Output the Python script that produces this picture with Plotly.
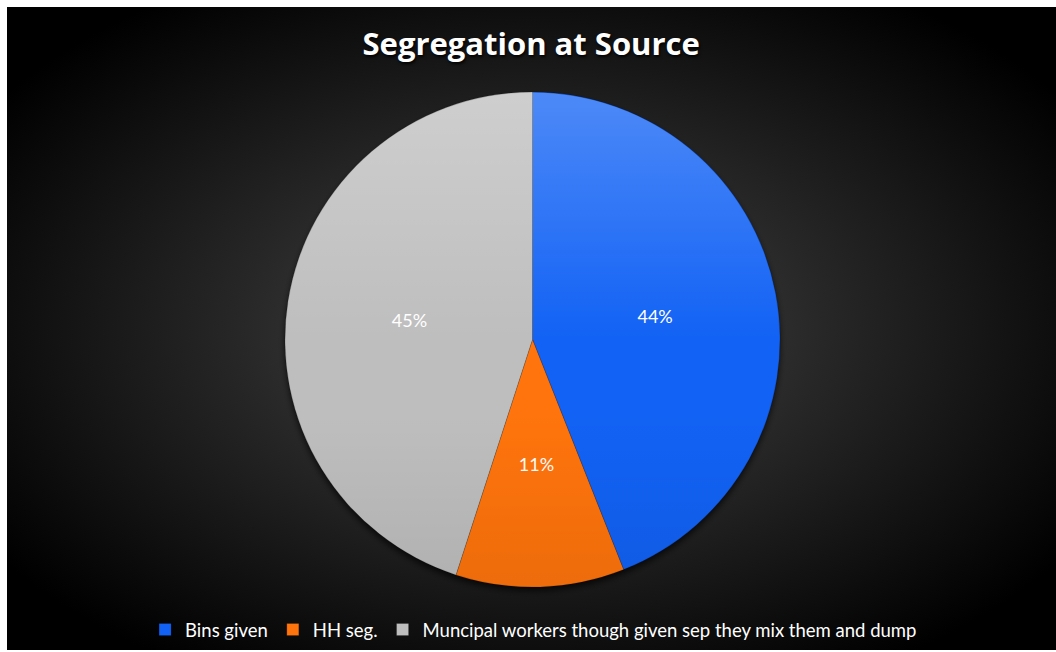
import base64
import plotly.graph_objects as go

categories = ["Bins given", "HH seg.", "Muncipal workers though given sep they mix them and dump"]
values = [44, 11, 45]
colors = ["#1262f5", "#ff740c", "#bebebe"]
title_text = "Segregation at Source"

W, H = 1056, 652
ml, mt, mr, mb = 7, 7, 0, 2
pw, ph = W - ml - mr, H - mt - mb

# pie geometry in pixels
cx, cy, r = 532.5, 339.5, 247.5

bg_svg = f'''<svg xmlns="http://www.w3.org/2000/svg" width="{pw}" height="{ph}" viewBox="0 0 {pw} {ph}" preserveAspectRatio="none">
<defs><radialGradient id="g" cx="0.5" cy="0.5" r="0.62" gradientUnits="objectBoundingBox">
<stop offset="0" stop-color="#4a4a4a"/><stop offset="0.45" stop-color="#272727"/><stop offset="1" stop-color="#000000"/>
</radialGradient>
<filter id="b" x="-20%" y="-20%" width="140%" height="140%"><feGaussianBlur stdDeviation="3"/></filter></defs>
<rect width="{pw}" height="{ph}" fill="url(#g)"/>
<circle cx="{cx - ml}" cy="{cy - mt + 4}" r="{r}" fill="#000" fill-opacity="0.7" filter="url(#b)"/></svg>'''
bg_uri = "data:image/svg+xml;base64," + base64.b64encode(bg_svg.encode()).decode()

ov_svg = '''<svg xmlns="http://www.w3.org/2000/svg" width="500" height="500" viewBox="0 0 500 500">
<defs><linearGradient id="l" x1="0" y1="0" x2="0" y2="1">
<stop offset="0" stop-color="#ffffff" stop-opacity="0.25"/><stop offset="0.5" stop-color="#ffffff" stop-opacity="0"/>
<stop offset="0.65" stop-color="#000000" stop-opacity="0"/><stop offset="1" stop-color="#000000" stop-opacity="0.07"/>
</linearGradient></defs><circle cx="250" cy="250" r="249.5" fill="url(#l)"/></svg>'''
ov_uri = "data:image/svg+xml;base64," + base64.b64encode(ov_svg.encode()).decode()

def dom(rad):
    return dict(x=[(cx - rad - ml) / pw, (cx + rad - ml) / pw],
                y=[1 - (cy + rad - mt) / ph, 1 - (cy - rad - mt) / ph])
main_dom = dom(r)
label_dom = dom(167)

lblfont = dict(color="white", size=18, family="Lato")

fig = go.Figure()
fig.add_trace(go.Pie(
    labels=categories, values=values, sort=False, direction="clockwise", rotation=0,
    marker=dict(colors=colors, line=dict(color="rgba(0,0,0,0.25)", width=0.6)),
    texttemplate=["%{percent:.0%}", "", "%{percent:.0%}"], textposition="inside",
    insidetextorientation="horizontal", textfont=lblfont,
    domain=main_dom, hoverinfo="label+percent",
))
fig.add_trace(go.Pie(
    labels=categories, values=values, sort=False, direction="clockwise", rotation=0,
    marker=dict(colors=["rgba(0,0,0,0)"] * 3, line=dict(width=0)),
    texttemplate=["", "%{percent:.0%}", ""], textposition="inside",
    insidetextorientation="horizontal", textfont=lblfont,
    domain=label_dom, hoverinfo="skip", showlegend=False,
))

fig.update_layout(
    width=W, height=H,
    margin=dict(l=ml, r=mr, t=mt, b=mb),
    paper_bgcolor="white",
    title=dict(text="<b>" + title_text + "</b>", x=0.503, xanchor="center", y=1 - 44 / H, yanchor="middle",
               font=dict(family="Open Sans", size=31, color="white", shadow="1px 2px 3px rgba(0,0,0,0.9)")),
    legend=dict(orientation="h", x=0.502, xanchor="center", y=1 - (630 - mt) / ph, yanchor="middle",
                font=dict(family="Lato", size=18.5, color="white"), bgcolor="rgba(0,0,0,0)",
                itemwidth=30, tracegroupgap=0),
    images=[
        dict(source=bg_uri, xref="paper", yref="paper", x=0, y=1, sizex=1, sizey=1,
             xanchor="left", yanchor="top", sizing="stretch", layer="below"),
        dict(source=ov_uri, xref="paper", yref="paper", x=main_dom["x"][0], y=main_dom["y"][1],
             sizex=main_dom["x"][1] - main_dom["x"][0], sizey=main_dom["y"][1] - main_dom["y"][0],
             xanchor="left", yanchor="top", sizing="stretch", layer="above"),
    ],
    showlegend=True,
)

fig.write_html("out.html")
